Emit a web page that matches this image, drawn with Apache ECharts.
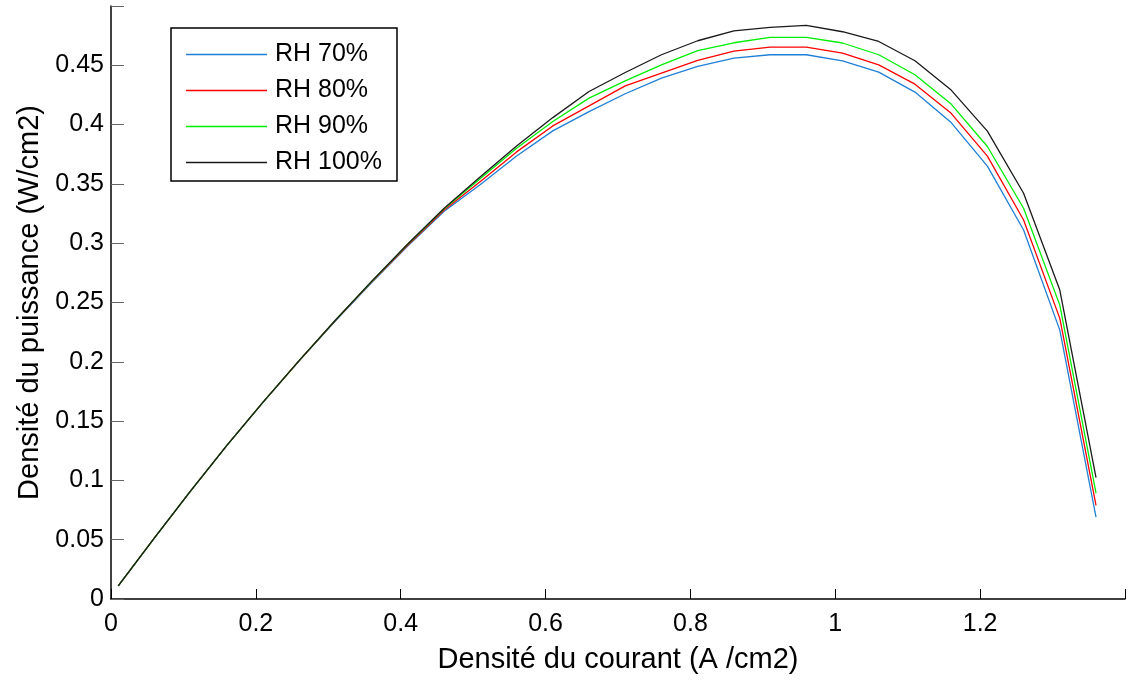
<!DOCTYPE html>
<html>
<head>
<meta charset="utf-8">
<script src="https://cdn.jsdelivr.net/npm/echarts@6/dist/echarts.min.js"></script>
<style>
html,body{margin:0;padding:0;background:#fff;}
#chart{width:1128px;height:684px;}
</style>
</head>
<body>
<div id="chart"></div>
<script>
// Current density (A/cm2)
var currentDensity = [0.01,0.06,0.11,0.16,0.21,0.26,0.31,0.36,0.41,0.46,0.51,0.56,0.61,0.66,0.71,0.76,0.81,0.86,0.91,0.96,1.01,1.06,1.11,1.16,1.21,1.26,1.31,1.36];
// Power density (W/cm2) per relative humidity
var rh70  = [0.0110,0.0515,0.0912,0.1295,0.1660,0.2010,0.2346,0.2668,0.2978,0.3270,0.3495,0.3735,0.3947,0.4110,0.4260,0.4392,0.4490,0.4560,0.4589,0.4589,0.4538,0.4443,0.4274,0.4017,0.3650,0.3111,0.2267,0.0691];
var rh80  = [0.0110,0.0515,0.0912,0.1295,0.1660,0.2011,0.2349,0.2674,0.2985,0.3280,0.3520,0.3770,0.3989,0.4158,0.4327,0.4434,0.4541,0.4620,0.4654,0.4654,0.4603,0.4504,0.4341,0.4095,0.3734,0.3196,0.2366,0.0789];
var rh90  = [0.0110,0.0515,0.0912,0.1295,0.1660,0.2012,0.2351,0.2678,0.2992,0.3290,0.3545,0.3800,0.4026,0.4223,0.4369,0.4504,0.4623,0.4690,0.4735,0.4735,0.4688,0.4589,0.4420,0.4173,0.3815,0.3295,0.2478,0.0893];
var rh100 = [0.0110,0.0515,0.0912,0.1295,0.1660,0.2012,0.2352,0.2680,0.2995,0.3295,0.3560,0.3820,0.4059,0.4279,0.4439,0.4589,0.4707,0.4790,0.4819,0.4836,0.4783,0.4701,0.4538,0.4291,0.3945,0.3421,0.2605,0.1023];
var seriesNames = ['RH 70%','RH 80%','RH 90%','RH 100%'];
var seriesColors = ['#1f7fd6','#ff0000','#00ee00','#1a1a1a'];
var xTickLabels = ['0','0.2','0.4','0.6','0.8','1','1.2'];
var yTickLabels = ['0','0.05','0.1','0.15','0.2','0.25','0.3','0.35','0.4','0.45'];

function pairs(ys){ return currentDensity.map(function(x,i){ return [x, ys[i]]; }); }
var allY = [rh70, rh80, rh90, rh100];

var font = '"Liberation Sans", Arial, sans-serif';
var chart = echarts.init(document.getElementById('chart'), null, {renderer:'canvas'});
chart.setOption({
  backgroundColor:'#ffffff',
  animation:false,
  grid:{left:111, right:2, top:6, bottom:85, containLabel:false},
  legend:{
    left:171, top:28, orient:'vertical',
    data:seriesNames,
    icon:'rect',
    itemWidth:81, itemHeight:1.4, itemGap:11,
    padding:[14,15,6,15],
    borderColor:'#000', borderWidth:1.5, backgroundColor:'#fff',
    textStyle:{fontFamily:font, fontSize:25, lineHeight:25, color:'#000', padding:[0,0,0,3]}
  },
  xAxis:{
    type:'value', min:0, max:1.4, interval:0.2,
    name:'Densité du courant (A /cm2)', nameLocation:'middle', nameGap:46,
    nameTextStyle:{fontFamily:font, fontSize:29, color:'#000'},
    axisLine:{show:true, onZero:false, lineStyle:{color:'#000', width:1.5}},
    axisTick:{show:true, inside:true, length:10, lineStyle:{color:'#000'}},
    axisLabel:{fontFamily:font, fontSize:25, color:'#000', margin:13,
      formatter:function(v){ var i=Math.round(v/0.2); return i<xTickLabels.length ? xTickLabels[i] : ''; }},
    splitLine:{show:false}
  },
  yAxis:{
    type:'value', min:0, max:0.5, interval:0.05,
    name:'Densité du puissance (W/cm2)', nameLocation:'middle', nameGap:63,
    nameTextStyle:{fontFamily:font, fontSize:29, color:'#000'},
    axisLine:{show:true, onZero:false, lineStyle:{color:'#000', width:1.5}},
    axisTick:{show:true, inside:true, length:13, lineStyle:{color:'#666'}},
    axisLabel:{fontFamily:font, fontSize:25, color:'#000', margin:7,
      formatter:function(v){ var i=Math.round(v/0.05); return i<yTickLabels.length ? yTickLabels[i] : ''; }},
    splitLine:{show:false}
  },
  series: seriesNames.map(function(n,i){
    return {
      name:n, type:'line', data:pairs(allY[i]),
      symbol:'none', smooth:false,
      lineStyle:{color:seriesColors[i], width:1.3},
      itemStyle:{color:seriesColors[i]}
    };
  })
});
</script>
</body>
</html>
